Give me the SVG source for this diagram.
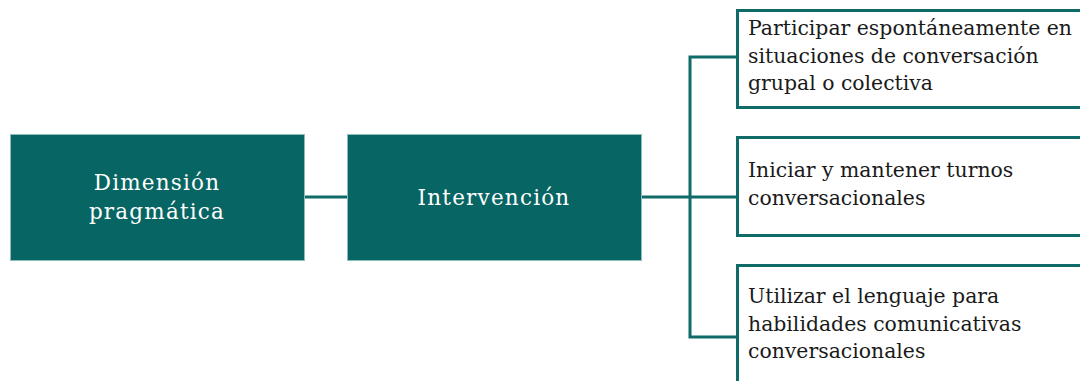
<svg xmlns="http://www.w3.org/2000/svg" width="1080" height="381" viewBox="0 0 1080 381">
<style>
.main{fill:#076563;stroke:#8dbdbb;stroke-width:1}
.leaf{fill:#ffffff;stroke:#0f6b68;stroke-width:3}
.wt{font-family:"DejaVu Serif","Liberation Serif",serif;font-size:21.5px;fill:#ffffff;text-anchor:middle;letter-spacing:1.2px}
.bt{font-family:"DejaVu Serif","Liberation Serif",serif;font-size:20.4px;fill:#1a1a1a}
.conn{fill:none;stroke:#0f6b68;stroke-width:3}
</style>
<rect width="1080" height="381" fill="#ffffff"/>
<g id="connectors">
<line class="conn" x1="304" y1="197" x2="348" y2="197"/>
<line class="conn" x1="642" y1="197" x2="737" y2="197"/>
<polyline class="conn" points="737,57 690,57 690,337 737,337"/>
</g>
<g id="node-dimension">
<rect class="main" x="10.5" y="134.5" width="294" height="126"/>
<text class="wt" x="157" y="190">Dimensión</text>
<text class="wt" x="157" y="219">pragmática</text>
</g>
<g id="node-intervencion">
<rect class="main" x="347.5" y="134.5" width="294" height="126"/>
<text class="wt" x="494" y="205">Intervención</text>
</g>
<g id="node-participar">
<rect class="leaf" x="737.5" y="10.5" width="360" height="97"/>
<text class="bt" x="748" y="35">Participar espontáneamente en</text>
<text class="bt" x="748" y="63">situaciones de conversación</text>
<text class="bt" x="748" y="90">grupal o colectiva</text>
</g>
<g id="node-iniciar">
<rect class="leaf" x="737.5" y="137.5" width="360" height="98"/>
<text class="bt" x="748" y="177">Iniciar y mantener turnos</text>
<text class="bt" x="748" y="205">conversacionales</text>
</g>
<g id="node-utilizar">
<rect class="leaf" x="737.5" y="265.5" width="360" height="130"/>
<text class="bt" x="748" y="303">Utilizar el lenguaje para</text>
<text class="bt" x="748" y="331">habilidades comunicativas</text>
<text class="bt" x="748" y="358">conversacionales</text>
</g>
</svg>
